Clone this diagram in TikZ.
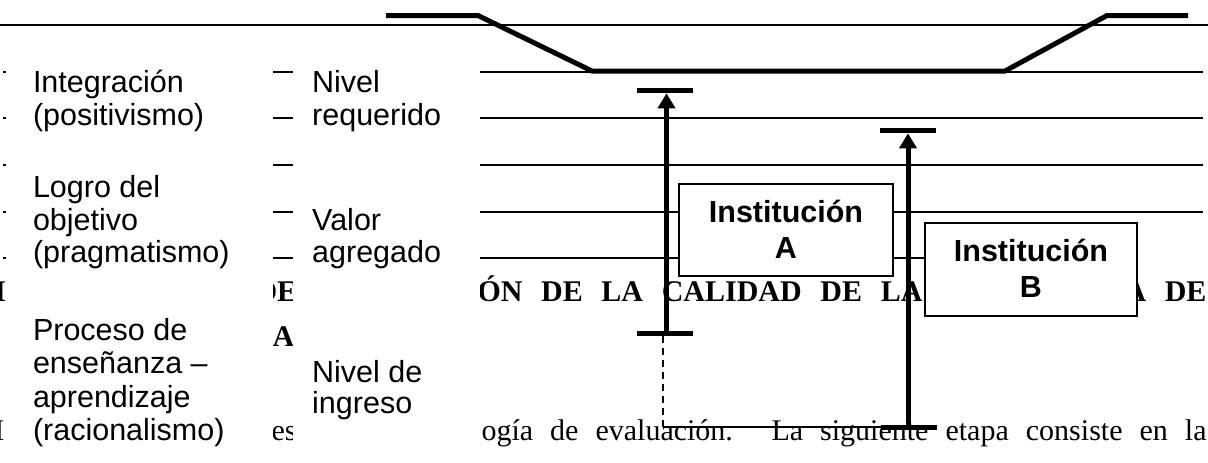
\documentclass[tikz,border=0pt]{standalone}
\usepackage{fontspec}
\setmainfont{Liberation Serif}
\newfontfamily\arialfont{Liberation Sans}
\usetikzlibrary{arrows.meta}
\begin{document}
\begin{tikzpicture}[x=0.4pt,y=-0.4pt,
  hline/.style={line width=0.9pt},
  trapline/.style={line width=2pt},
  tbar/.style={line width=2pt},
  shaft/.style={line width=2pt,-{Triangle[width=6.8pt,length=6pt]}},
  lbl/.style={anchor=base west,inner sep=0pt,font=\arialfont\fontsize{12.2}{14}\selectfont},
  bodytxt/.style={anchor=base west,inner sep=0pt,font=\fontsize{12}{14}\selectfont},
  bodyb/.style={anchor=base west,inner sep=0pt,font=\bfseries\fontsize{12}{14}\selectfont},
  cover/.style={fill=white,draw=none},
  inst/.style={draw,line width=0.7pt,fill=white,inner sep=0pt},
  insttxt/.style={anchor=base,inner sep=0pt,font=\arialfont\bfseries\fontsize{12.2}{14}\selectfont},
  thinline/.style={line width=0.6pt},
  dashline/.style={line width=0.5pt,dash pattern=on 2.8pt off 2pt}
]
\useasboundingbox (0,0) rectangle (1208,462);
\fill[white] (0,0) rectangle (1208,462);

% background document text
\node[bodyb] (b1a) at (-6,301) {I};
\node[bodyb] (b1b) at (255,301) {DE};
\node[bodyb] (b1c) at (477,301) {\makebox[178pt][s]{ÓN DE LA CALIDAD DE LA}};
\node[bodyb] (b1d) at (1124,301) {\makebox[32.8pt][s]{A DE}};
\node[bodyb] (b2) at (272,346) {A};
\node[bodytxt] (b3a) at (-6,440) {I};
\node[bodytxt] (b3b) at (271,440) {es};
\node[bodytxt] (b3c) at (481,440) {\makebox[290pt][s]{ogía de evaluación. La siguiente etapa consiste en la}};

% horizontal level lines
\draw[hline] (0,25) -- (1208,25);
\foreach \yy in {71.7,118.3,165,211.7} {
  \draw[hline] (3,\yy) -- (1203,\yy);
}
\draw[hline] (3,258.3) -- (1030,258.3);

% thick trapezoid
\draw[trapline] (386,15.5) -- (478,15.5) -- (592,71) -- (1005,71) -- (1107,15.5) -- (1188,15.5);

% white label boxes
\fill[cover] (6,35) rectangle (273,470);
\fill[cover] (293,35) rectangle (480,470);

\node[lbl] (l1) at (32.5,92) {Integración};
\node[lbl] (l2) at (32.5,125) {(positivismo)};
\node[lbl] (l3) at (32.5,197) {Logro del};
\node[lbl] (l4) at (32.5,230) {objetivo};
\node[lbl] (l5) at (32.5,262) {(pragmatismo)};
\node[lbl] (l6) at (32.5,340) {Proceso de};
\node[lbl] (l7) at (32.5,373) {enseñanza –};
\node[lbl] (l8) at (32.5,407) {aprendizaje};
\node[lbl] (l9) at (32.5,440) {(racionalismo)};

\node[lbl] (r1) at (311.7,92) {Nivel};
\node[lbl] (r2) at (311.7,125) {requerido};
\node[lbl] (r3) at (311.7,230) {Valor};
\node[lbl] (r4) at (311.7,262) {agregado};
\node[lbl] (r5) at (311.7,382) {Nivel de};
\node[lbl] (r6) at (311.7,413) {ingreso};

% institution boxes
\node[inst,minimum width=85.6pt,minimum height=36.8pt] (A) at (786,230) {};
\node[insttxt] (A1) at (786,222.7) {Institución};
\node[insttxt] (A2) at (786,258.3) {A};
\node[inst,minimum width=84.8pt,minimum height=37.2pt] (B) at (1031,269.5) {};
\node[insttxt] (B1) at (1031,261.7) {Institución};
\node[insttxt] (B2) at (1031,297.3) {B};

% arrow A
\coordinate (AtopL) at (637,90.8);
\coordinate (AtopR) at (693,90.8);
\coordinate (Atip) at (666.5,93.3);
\coordinate (AbotL) at (637,333.5);
\coordinate (AbotR) at (693,333.5);
\coordinate (Abot) at (666.5,333.5);
\draw[tbar] (AtopL) -- (AtopR);
\draw[tbar] (AbotL) -- (AbotR);
\draw[shaft] (Abot) -- (Atip);

% arrow B
\coordinate (BtopL) at (880,130.8);
\coordinate (BtopR) at (936,130.8);
\coordinate (Btip) at (908,133.3);
\coordinate (BbotL) at (881,427);
\coordinate (BbotR) at (937,427);
\coordinate (Bbot) at (908,427);
\draw[tbar] (BtopL) -- (BtopR);
\draw[tbar] (BbotL) -- (BbotR);
\draw[shaft] (Bbot) -- (Btip);

% dashed drop and base line
\coordinate (Dtop) at (663,336);
\coordinate (Dbot) at (663,427);
\draw[dashline] (Dtop) -- (Dbot);
\draw[thinline] (Dbot) -- (Bbot);
\end{tikzpicture}
\end{document}
